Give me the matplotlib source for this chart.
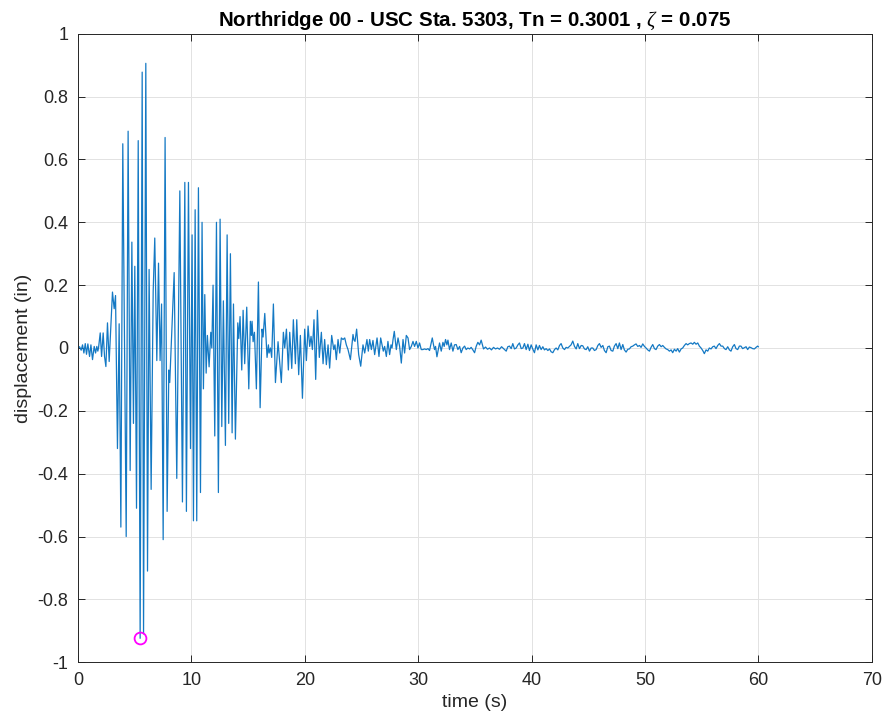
import numpy as np
import matplotlib
matplotlib.use('Agg')
import matplotlib.pyplot as plt

# extrema of the response history (time s, displacement in)
t_strong = [0.0, 0.15, 0.29, 0.41, 0.53, 0.65, 0.76, 0.88, 1.03, 1.15, 1.29, 1.44, 1.56, 1.67,
            1.76, 1.82, 1.97, 2.09, 2.23, 2.35, 2.47, 2.61, 2.76, 2.88, 3.05, 3.2, 3.32, 3.49,
            3.64, 3.79, 3.96, 4.26, 4.43, 4.61, 4.76, 4.9, 5.02, 5.17, 5.32, 5.49, 5.67, 5.79,
            5.99, 6.14, 6.28, 6.46, 6.64, 6.78, 6.96, 7.11, 7.25, 7.38, 7.52, 7.69, 7.87, 8.02,
            8.1, 8.31, 8.49, 8.72]
u_strong = [0.0, 0.004, -0.007, 0.01, -0.016, 0.014, -0.02, 0.013, -0.027, 0.01, -0.037, 0.005,
            -0.016, 0.005, -0.01, 0.0, 0.048, -0.027, 0.048, -0.027, -0.059, 0.08, -0.043, 0.05,
            0.178, 0.125, 0.167, -0.32, 0.077, -0.57, 0.65, -0.60, 0.69, -0.39, 0.337, -0.24,
            0.26, -0.51, 0.66, -0.924, 0.878, -0.91, 0.906, -0.71, 0.25, -0.45, 0.18, 0.35,
            -0.04, 0.27, -0.04, 0.14, -0.61, 0.67, -0.52, -0.07, -0.11, 0.08, 0.24, -0.415]

t_mid = [8.99, 9.22, 9.43, 9.57, 9.75, 9.93, 10.07, 10.19, 10.34, 10.48, 10.63, 10.81, 10.95,
         11.07, 11.19, 11.31, 11.42, 11.57, 11.72, 11.81, 11.92, 12.07, 12.22, 12.39, 12.54,
         12.69, 12.83, 13.01, 13.16, 13.30, 13.45, 13.60, 13.72, 13.89, 14.10, 14.19, 14.30,
         14.45, 14.57, 14.71, 14.89, 15.07, 15.21, 15.30, 15.36, 15.45, 15.57, 15.74, 15.92,
         16.07, 16.24, 16.33, 16.48, 16.68, 16.80, 16.86, 16.98, 17.09, 17.24, 17.42, 17.65,
         17.94, 18.12, 18.24, 18.39, 18.56, 18.68, 18.86, 19.00, 19.18, 19.30, 19.47]
u_mid = [0.50, -0.49, 0.527, -0.52, 0.527, -0.32, 0.36, -0.55, 0.44, -0.55, 0.51, -0.46, 0.40,
         -0.13, 0.17, -0.08, 0.04, -0.06, 0.05, 0.0, 0.20, -0.28, 0.40, -0.46, 0.41, -0.25,
         0.15, -0.31, 0.36, -0.24, 0.30, -0.27, 0.14, -0.29, 0.08, 0.03, 0.10, -0.07, 0.12,
         -0.05, 0.13, -0.13, 0.085, 0.04, 0.085, 0.02, 0.05, -0.13, 0.21, -0.19, 0.06, 0.035,
         0.11, -0.03, 0.01, -0.016, 0.0, -0.03, 0.14, -0.11, 0.02, -0.11, 0.05, 0.0, 0.06,
         -0.07, 0.05, -0.065, 0.09, -0.05, 0.09, -0.085]

t_decay = [19.62, 19.80, 20.00, 20.15, 20.30, 20.44, 20.56, 20.68, 20.82, 20.97, 21.12, 21.29,
           21.47, 21.62, 21.76, 21.91, 22.06, 22.20, 22.38, 22.56, 22.67, 22.79, 22.94, 23.09,
           23.23, 23.38, 23.53, 23.67, 23.82, 24.03, 24.26, 24.35, 24.44, 24.58, 24.76, 24.94,
           25.14, 25.29, 25.49, 25.61, 25.73, 25.88, 26.02, 26.17, 26.38, 26.55, 26.70, 26.85,
           26.93, 27.05, 27.20, 27.34, 27.49, 27.61, 27.70, 27.79, 27.90, 28.08, 28.23, 28.37,
           28.52, 28.67, 28.81, 28.96, 29.11, 29.25, 29.40, 29.55, 29.69, 29.84, 29.99, 30.13]
u_decay = [0.04, -0.16, 0.06, -0.04, 0.07, 0.005, 0.037, -0.005, 0.09, -0.10, 0.12, -0.03,
           0.05, -0.05, 0.027, -0.053, 0.01, -0.064, 0.04, -0.005, 0.01, -0.037, 0.027, -0.016,
           0.032, 0.027, 0.032, 0.01, -0.005, -0.037, 0.043, 0.025, 0.021, 0.06, -0.021, -0.058,
           0.01, -0.016, 0.027, -0.01, 0.027, -0.005, 0.024, -0.021, 0.032, -0.027, 0.032, 0.005,
           -0.01, 0.005, -0.027, 0.021, -0.021, 0.01, 0.0, 0.027, 0.053, -0.005, 0.032, 0.005,
           -0.048, 0.027, -0.016, 0.04, 0.032, -0.005, 0.005, 0.021, 0.005, 0.021, 0.0, 0.016]

t_tail = [30.28, 30.42, 30.57, 30.72, 30.87, 31.01, 31.25, 31.36, 31.45, 31.54, 31.66, 31.78,
          31.89, 32.04, 32.19, 32.30, 32.42, 32.54, 32.63, 32.77, 32.92, 33.07, 33.21, 33.36,
          33.51, 33.66, 33.80, 33.95, 34.10, 34.24, 34.39, 34.54, 34.68, 34.83, 34.98, 35.12,
          35.27, 35.42, 35.56, 35.77, 35.95, 36.12, 36.30, 36.47, 36.65, 36.83, 37.00, 37.18,
          37.36, 37.53, 37.77, 37.91, 38.06, 38.21, 38.35, 38.50, 38.65, 38.80, 38.94, 39.09,
          39.24, 39.38, 39.53, 39.68, 39.82, 39.97, 40.12, 40.26, 40.41, 40.56, 40.70, 40.85,
          41.00, 41.14, 41.29, 41.44, 41.59, 41.73, 41.88, 42.03, 42.17, 42.32, 42.47, 42.61,
          42.76, 42.91, 43.05, 43.20, 43.35, 43.49, 43.64, 43.79, 43.94, 44.08, 44.23, 44.38,
          44.52, 44.67, 44.82, 44.96, 45.11, 45.26, 45.40, 45.55, 45.70, 45.85, 45.99, 46.14,
          46.29, 46.43, 46.58, 46.73, 46.87, 47.02, 47.17, 47.31, 47.46, 47.61, 47.75, 47.90,
          48.05, 48.19, 48.34, 48.49, 48.63, 48.78, 48.93, 49.08, 49.22, 49.37, 49.52, 49.66,
          49.81, 49.96, 50.10, 50.25, 50.40, 50.54, 50.69, 50.84, 50.98, 51.13, 51.28, 51.43,
          51.57, 51.72, 51.87, 52.01, 52.16, 52.31, 52.45, 52.60, 52.75, 52.89, 53.04, 53.19,
          53.33, 53.48, 53.63, 53.77, 53.92, 54.07, 54.22, 54.36, 54.51, 54.66, 54.80, 54.95,
          55.10, 55.24, 55.39, 55.54, 55.68, 55.83, 55.98, 56.12, 56.27, 56.42, 56.57, 56.71,
          56.86, 57.01, 57.15, 57.30, 57.45, 57.59, 57.74, 57.89, 58.03, 58.18, 58.33, 58.47,
          58.62, 58.77, 58.92, 59.06, 59.21, 59.36, 59.50, 59.65, 59.80, 59.94, 60.0]
u_tail = [-0.005, -0.005, -0.003, -0.005, -0.002, -0.008, 0.032, 0.01, -0.005, 0.005, -0.028,
          -0.005, 0.016, -0.01, 0.018, 0.005, 0.027, 0.01, 0.025, -0.005, 0.016, -0.01, 0.01,
          0.011, -0.005, 0.005, -0.015, 0.0, 0.006, -0.005, 0.0, -0.003, 0.002, -0.006, -0.015,
          0.005, 0.018, 0.01, 0.025, -0.003, 0.003, -0.004, 0.0, -0.006, 0.002, -0.003, 0.0,
          -0.004, 0.004, -0.002, -0.01, 0.004, 0.006, -0.002, 0.014, -0.003, 0.0, 0.01, 0.016,
          -0.002, 0.0, 0.014, -0.005, 0.012, -0.008, 0.01, -0.004, -0.015, 0.01, -0.006, 0.008,
          -0.005, 0.004, -0.006, -0.002, -0.008, -0.003, -0.012, -0.015, -0.005, 0.0, -0.006,
          0.008, 0.014, 0.0, -0.005, 0.002, 0.0, 0.005, 0.01, 0.022, 0.005, -0.003, 0.014,
          -0.002, 0.008, 0.007, -0.003, -0.005, 0.004, -0.01, 0.0, 0.0, -0.008, -0.005, 0.008,
          0.014, 0.002, 0.008, -0.008, -0.015, 0.004, 0.006, -0.008, -0.01, 0.006, 0.014,
          -0.002, 0.016, -0.005, 0.011, -0.006, -0.013, -0.004, -0.003, 0.004, 0.006, 0.01,
          0.013, 0.005, 0.008, 0.002, 0.013, 0.005, 0.0, -0.006, -0.01, 0.002, 0.011, -0.002,
          -0.005, 0.006, 0.011, 0.004, 0.008, 0.002, -0.003, -0.005, -0.01, -0.006, -0.015,
          -0.004, -0.01, -0.002, -0.013, -0.003, 0.0, 0.008, 0.014, 0.01, 0.014, 0.016, 0.012,
          0.018, 0.012, 0.016, 0.006, 0.0, -0.008, -0.018, -0.006, -0.01, 0.0, -0.003, 0.004,
          0.006, -0.002, 0.008, 0.014, 0.006, 0.006, -0.002, -0.005, 0.004, -0.006, -0.01,
          0.004, 0.011, -0.002, -0.005, 0.006, 0.006, -0.002, 0.001, 0.004, -0.005, 0.003,
          0.001, -0.002, -0.003, 0.002, 0.006, 0.004]

title = r'Northridge 00 - USC Sta. 5303, Tn = 0.3001 , $\zeta$ = 0.075'
xticks = [0, 10, 20, 30, 40, 50, 60, 70]
yticks = [-1, -0.8, -0.6, -0.4, -0.2, 0, 0.2, 0.4, 0.6, 0.8, 1]
ytick_labels = ['-1', '-0.8', '-0.6', '-0.4', '-0.2', '0', '0.2', '0.4', '0.6', '0.8', '1']

t = np.array(t_strong + t_mid + t_decay + t_tail)
u = np.array(u_strong + u_mid + u_decay + u_tail)

plt.rcParams['font.family'] = ['Liberation Sans', 'DejaVu Sans']
plt.rcParams['mathtext.fontset'] = 'custom'
plt.rcParams['mathtext.it'] = 'Liberation Serif:italic'

fig = plt.figure(figsize=(8.85, 7.19), dpi=100)
ax = fig.add_axes([0.088, 0.079, 0.897, 0.874])

ax.plot(t, u, color='#1479C4', linewidth=0.9)
imin = np.argmin(u)
ax.plot(t[imin], u[imin], 'o', markerfacecolor='none', markeredgecolor='#FF00FF',
        markersize=8.5, markeredgewidth=1.3)

ax.set_xlim(0, 70)
ax.set_ylim(-1, 1)
ax.set_xticks(xticks)
ax.set_yticks(yticks)
ax.set_yticklabels(ytick_labels)
ax.grid(True, color='#E2E2E2', linewidth=0.7)
ax.set_axisbelow(True)
ax.tick_params(direction='in', top=True, right=True, length=5, width=0.7,
               labelsize=13, colors='#262626', pad=7)
for s in ax.spines.values():
    s.set_color('#262626')
    s.set_linewidth(0.7)

ax.set_title(title, fontsize=14.8, fontweight='bold', color='black', pad=6)
ax.set_xlabel('time (s)', fontsize=14, color='#262626', labelpad=4)
ax.set_ylabel('displacement (in)', fontsize=14, color='#262626', labelpad=4)

fig.savefig('out.png', dpi=100)
